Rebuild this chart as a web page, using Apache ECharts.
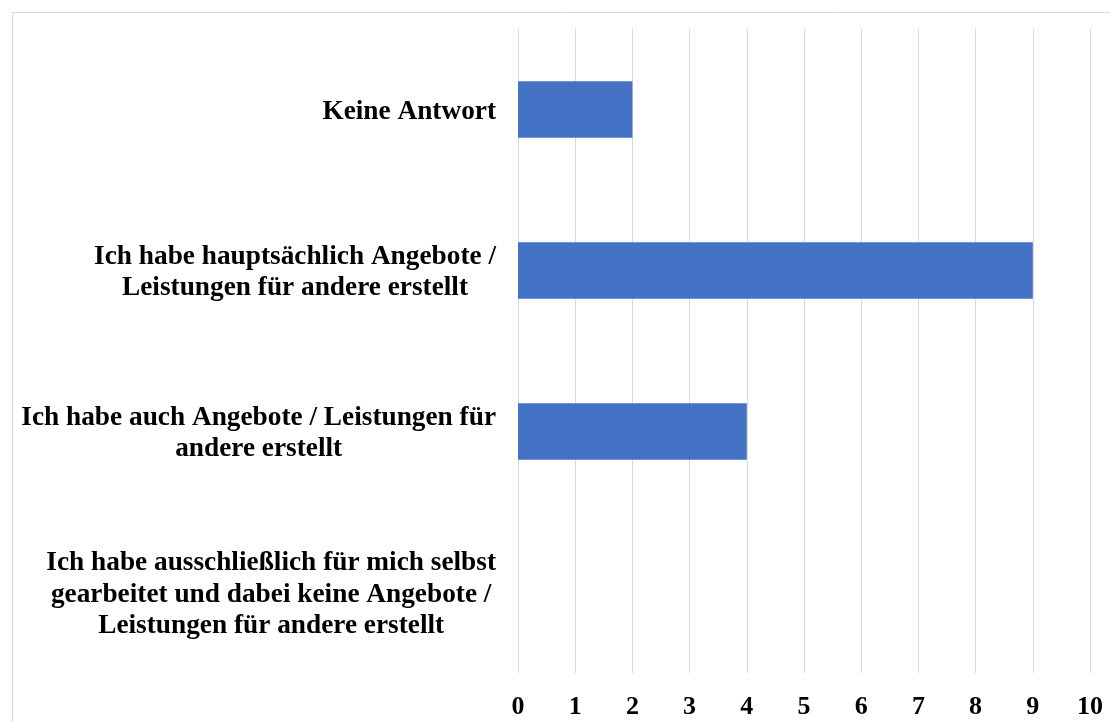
<!DOCTYPE html>
<html>
<head>
<meta charset="utf-8">
<script src="https://cdn.jsdelivr.net/npm/echarts@6/dist/echarts.min.js"></script>
<style>
  html, body { margin: 0; padding: 0; background: #fff; }
  #chart { width: 1110px; height: 722px; }
</style>
</head>
<body>
<div id="chart"></div>
<script>
// categories top to bottom
var categories = [
  'Keine Antwort',
  'Ich habe hauptsächlich Angebote /\nLeistungen für andere erstellt',
  'Ich habe auch Angebote / Leistungen für\nandere erstellt',
  'Ich habe ausschließlich für mich selbst\ngearbeitet und dabei keine Angebote /\nLeistungen für andere erstellt'
]
var values = [2, 9, 4, 0]
var tickMin = 0
var tickMax = 10

var chart = echarts.init(document.getElementById('chart'))
var option = {
  animation: false,
  graphic: [{
    type: 'rect',
    shape: { x: 12.5, y: 12.5, width: 1200, height: 800 },
    style: { fill: 'none', stroke: '#d9d9d9', lineWidth: 1 },
    silent: true
  }],
  grid: { left: 518, right: 20, top: 29, bottom: 49 },
  xAxis: {
    type: 'value',
    min: tickMin,
    max: tickMax,
    interval: 1,
    axisLine: { show: false },
    axisTick: { show: false },
    splitLine: { lineStyle: { color: '#d9d9d9', width: 1 } },
    axisLabel: {
      margin: 21,
      color: '#000',
      fontFamily: 'Liberation Serif',
      fontWeight: 'bold',
      fontSize: 26
    }
  },
  yAxis: {
    type: 'category',
    inverse: true,
    data: categories,
    axisLine: { show: false },
    axisTick: { show: false },
    axisLabel: {
      margin: 22,
      align: 'right',
      padding: [4, 0, 0, 0],
      formatter: function (v) {
        return v.split('\n').map(function (l) { return '{c|' + l + '}' }).join('\n')
      },
      rich: {
        c: {
          align: 'center',
          color: '#000',
          fontFamily: 'Liberation Serif',
          fontWeight: 'bold',
          fontSize: 27.3,
          lineHeight: 31.5
        }
      }
    }
  },
  series: [{
    type: 'bar',
    data: values,
    barWidth: '35%',
    itemStyle: { color: '#4472C4' }
  }]
}
option && chart.setOption(option)
</script>
</body>
</html>
